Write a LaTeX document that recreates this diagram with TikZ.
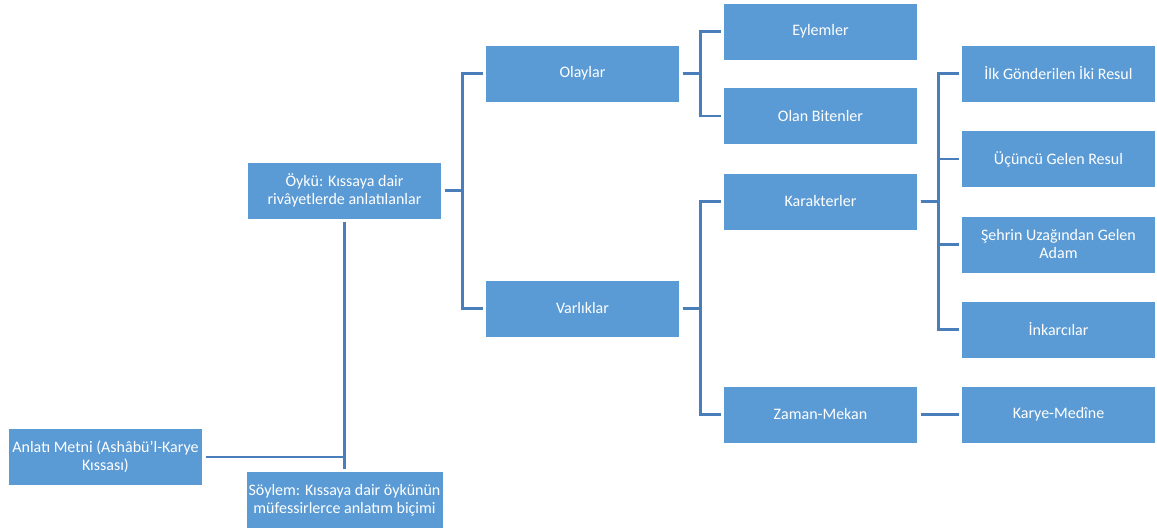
\documentclass[tikz,border=0pt]{standalone}
\usepackage{fontspec}
\setmainfont{Carlito}
\definecolor{boxblue}{HTML}{5B9BD5}
\definecolor{linkblue}{HTML}{4A7EBB}
\begin{document}
\begin{tikzpicture}[
      x=0.75pt, y=-0.75pt,
      every node/.style={font=\fontsize{12}{13.5}\selectfont},
      box/.style={draw=white, line width=0.6pt, fill=boxblue, text=white, align=center, minimum width=146pt, minimum height=42.75pt, inner sep=2pt, outer sep=2pt},
      link/.style={draw=linkblue, line width=2.2pt}
    ]
      \useasboundingbox (0,0) rectangle (1157,530);
      % left column
      \node[box] (anlati) at (105.5,457) {Anlatı Metni (Ashâbü’l-Karye\\Kıssası)};
      \node[box] (oyku) at (344.5,190.5) {Öykü: Kıssaya dair\\rivâyetlerde anlatılanlar};
      \node[box] (soylem) at (344.5,500) {Söylem: Kıssaya dair öykünün\\müfessirlerce anlatım biçimi};
      % second level
      \node[box] (olaylar) at (582.5,73.5) {Olaylar};
      \node[box] (varliklar) at (582.5,308.5) {Varlıklar};
      % third level
      \node[box] (eylemler) at (820.5,31.5) {Eylemler};
      \node[box] (bitenler) at (820.5,116) {Olan Bitenler};
      \node[box] (karakter) at (820.5,201.5) {Karakterler};
      \node[box] (zaman) at (820.5,414.5) {Zaman-Mekan};
      % fourth level
      \node[box] (resul1) at (1058.5,73.5) {İlk Gönderilen İki Resul};
      \node[box] (resul2) at (1058.5,159) {Üçüncü Gelen Resul};
      \node[box] (adam) at (1058.5,244.5) {Şehrin Uzağından Gelen\\Adam};
      \node[box] (inkar) at (1058.5,329.5) {İnkarcılar};
      \node[box] (karye) at (1058.5,414.5) {Karye-Medîne};

      \draw[link] (oyku.south) -- (soylem.north);
      \draw[link] (anlati.east) -- (anlati.east -| oyku.south);
      \foreach \kid in {olaylar,varliklar}
        \draw[link] (oyku.east) -- ++(18,0) |- (\kid.west);
      \foreach \kid in {eylemler,bitenler}
        \draw[link] (olaylar.east) -- ++(18,0) |- (\kid.west);
      \foreach \kid in {karakter,zaman}
        \draw[link] (varliklar.east) -- ++(18,0) |- (\kid.west);
      \foreach \kid in {resul1,resul2,adam,inkar}
        \draw[link] (karakter.east) -- ++(18,0) |- (\kid.west);
      \draw[link] (zaman.east) -- (karye.west);
    \end{tikzpicture}
\end{document}
